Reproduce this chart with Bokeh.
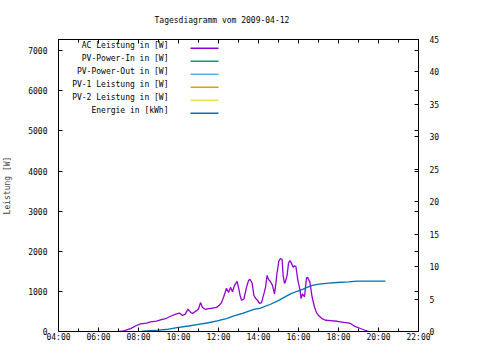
from math import pi
from bokeh.plotting import figure
from bokeh.models import Range1d, LinearAxis, FixedTicker, Label, BoxAnnotation
from bokeh.embed import file_html
from bokeh.resources import INLINE

title_text = "Tagesdiagramm vom 2009-04-12"
hour_ticks = [4, 6, 8, 10, 12, 14, 16, 18, 20, 22]
hour_labels = ["04:00", "06:00", "08:00", "10:00", "12:00", "14:00", "16:00", "18:00", "20:00", "22:00"]
minor_hours = [5, 7, 9, 11, 13, 15, 17, 19, 21]
power_ticks = [0, 1000, 2000, 3000, 4000, 5000, 6000, 7000]
energy_ticks = [0, 5, 10, 15, 20, 25, 30, 35, 40, 45]
power_max = 7280
energy_max = 45

series_names = ["AC Leistung in [W]", "PV-Power-In in [W]", "PV-Power-Out in [W]",
                "PV-1 Leistung in [W]", "PV-2 Leistung in [W]", "Energie in [kWh]"]
series_colors = ["#9400d3", "#009e73", "#56b4e9", "#e69f00", "#f0e442", "#0072b2"]

ac_hours = [7.0, 7.1, 7.3, 7.6, 7.9, 8.1, 8.4, 8.6, 8.9, 9.1, 9.4, 9.6, 9.9, 10.05, 10.2,
            10.35, 10.47, 10.6, 10.7, 10.9, 11.0, 11.1, 11.2, 11.35, 11.5, 11.7, 11.9,
            12.05, 12.15, 12.27, 12.4, 12.5, 12.6, 12.7, 12.8, 12.93, 13.0, 13.08, 13.15,
            13.27, 13.4, 13.5, 13.57, 13.68, 13.77, 13.85, 13.95, 14.05, 14.15, 14.27,
            14.35, 14.43, 14.5, 14.6, 14.7, 14.8, 14.87, 14.92, 15.02, 15.1, 15.18, 15.23,
            15.3, 15.35, 15.43, 15.5, 15.57, 15.65, 15.73, 15.8, 15.87, 15.97, 16.07,
            16.13, 16.2, 16.3, 16.4, 16.45, 16.57, 16.68, 16.8, 16.9, 17.02, 17.18, 17.35,
            17.6, 17.93, 18.27, 18.6, 18.85, 19.1, 19.35, 19.52]
ac_watts = [0, 0, 20, 70, 150, 190, 210, 240, 260, 290, 330, 380, 440, 460, 400,
            440, 560, 480, 450, 520, 560, 720, 600, 550, 570, 580, 600,
            660, 720, 880, 1080, 970, 1100, 990, 1150, 1250, 1100, 900, 780,
            810, 1100, 1270, 1300, 1210, 900, 830, 780, 700, 720, 940,
            1100, 1400, 1300, 1240, 1150, 940, 1200, 1440, 1760, 1820, 1800, 1400,
            1200, 1250, 1400, 1700, 1770, 1700, 1600, 1640, 1620, 1270, 1050,
            820, 940, 860, 1340, 1350, 1230, 860, 610, 470, 390, 320, 280,
            270, 255, 225, 200, 120, 75, 25, 0]

energy_hours = [8.18, 9.0, 9.5, 9.93, 10.5, 10.93, 11.5, 11.93, 12.4, 12.77, 13.2, 13.77,
                14.1, 14.6, 15.02, 15.3, 15.6, 15.93, 16.2, 16.43, 16.7, 17.02, 17.5,
                17.93, 18.5, 18.93, 20.35]
energy_kwh = [0.05, 0.2, 0.35, 0.6, 0.85, 1.07, 1.35, 1.63, 2.0, 2.4, 2.8, 3.4,
              3.6, 4.2, 4.8, 5.3, 5.8, 6.2, 6.5, 6.8, 7.1, 7.3, 7.45,
              7.55, 7.65, 7.75, 7.75]

FONT = "DejaVu Sans Mono"
FS = "8px"

p = figure(width=464, height=344, output_backend="svg", toolbar_location=None,
           x_range=Range1d(4, 22), y_range=Range1d(0, power_max),
           min_border_left=58, min_border_right=46, min_border_top=39, min_border_bottom=12)
p.extra_y_ranges = {"y2": Range1d(0, energy_max)}
p.grid.visible = False
p.outline_line_color = "black"
p.background_fill_color = "white"
p.border_fill_color = "white"

p.title.text = title_text
p.title.text_font = FONT
p.title.text_font_size = FS
p.title.text_font_style = "normal"
p.title.text_color = "black"
p.title.align = "left"
p.title.offset = 96
p.title.vertical_align = "top"
p.title.standoff = 26

xt = FixedTicker(ticks=hour_ticks, minor_ticks=minor_hours)

def style_axis(ax, labels=True):
    ax.axis_line_color = "black"
    ax.major_tick_line_color = "black"
    ax.minor_tick_line_color = "black"
    ax.major_tick_in = 4
    ax.major_tick_out = 0
    ax.minor_tick_in = 3
    ax.minor_tick_out = 0
    ax.major_label_text_font = FONT
    ax.major_label_text_font_size = FS if labels else "0px"
    ax.major_label_text_color = "black"
    ax.axis_label_text_font = FONT
    ax.axis_label_text_font_size = FS
    ax.axis_label_text_font_style = "normal"

bx = p.xaxis[0]
bx.ticker = xt
bx.major_label_overrides = {t: s for t, s in zip(hour_ticks, hour_labels)}
style_axis(bx)
bx.major_label_standoff = 1

ly = p.yaxis[0]
ly.ticker = FixedTicker(ticks=power_ticks, minor_ticks=[])
style_axis(ly)
ly.major_label_standoff = 11
ly.axis_label = "Leistung [W]"
ly.axis_label_standoff = 13

top = LinearAxis(ticker=xt)
style_axis(top, labels=False)
top.major_label_standoff = 0
top.major_label_overrides = {t: "" for t in hour_ticks}
p.add_layout(top, "above")

mirror = LinearAxis(ticker=FixedTicker(ticks=power_ticks, minor_ticks=[]))
style_axis(mirror, labels=False)
mirror.major_label_standoff = 0
mirror.major_label_overrides = {t: "" for t in power_ticks}
p.add_layout(mirror, "right")

ry = LinearAxis(y_range_name="y2", ticker=FixedTicker(ticks=energy_ticks, minor_ticks=[]))
style_axis(ry)
ry.major_label_standoff = 11
p.add_layout(ry, "right")

p.line(ac_hours, ac_watts, line_color=series_colors[0], line_width=1.3)
p.line(energy_hours, energy_kwh, line_color=series_colors[5], line_width=1.3, y_range_name="y2")

p.add_layout(Label(x=394, y=139, x_units="screen", y_units="screen", text="Energie [kWh]",
                   angle=pi / 2, text_align="center", text_baseline="middle",
                   text_font=FONT, text_font_size=FS, text_color="black"))

row_top = 286
row_h = 13
for i, (name, col) in enumerate(zip(series_names, series_colors)):
    yy = row_top - i * row_h
    p.add_layout(Label(x=110, y=yy, x_units="screen", y_units="screen", text=name,
                       text_align="right", text_baseline="middle",
                       text_font=FONT, text_font_size=FS, text_color="black"))
    p.add_layout(BoxAnnotation(left=132, right=160, top=yy - 2, bottom=yy - 3.5,
                               left_units="screen", right_units="screen",
                               top_units="screen", bottom_units="screen",
                               fill_color=col, fill_alpha=1, line_alpha=0))

open("out.html", "w").write(file_html(p, INLINE))
